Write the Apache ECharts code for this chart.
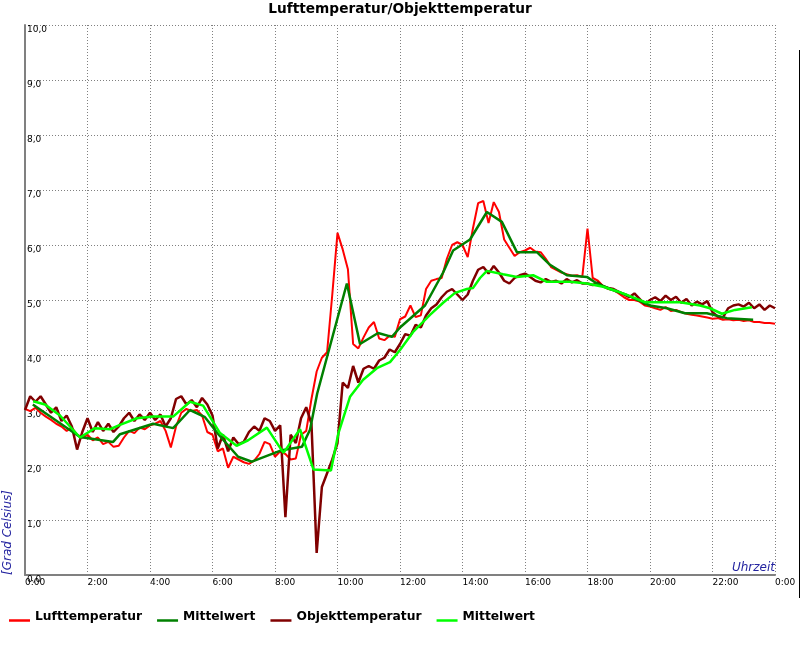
<!DOCTYPE html>
<html>
<head>
<meta charset="utf-8">
<script src="https://cdn.jsdelivr.net/npm/echarts@6/dist/echarts.min.js"></script>
<style>html,body{margin:0;padding:0;background:#fff}#c{width:800px;height:650px}</style>
</head>
<body>
<div id="c"></div>
<script>
// Lufttemperatur, every 10 minutes from 0:00 to 24:00
const luftTemp = [
  3.02, 2.98, 3.04, 2.95, 2.88, 2.82,
  2.75, 2.70, 2.62, 2.68, 2.55, 2.50,
  2.55, 2.45, 2.50, 2.38, 2.42, 2.33,
  2.35, 2.50, 2.62, 2.58, 2.68, 2.65,
  2.72, 2.75, 2.80, 2.62, 2.32, 2.70,
  2.95, 3.02, 2.98, 3.00, 2.90, 2.60,
  2.55, 2.25, 2.30, 1.95, 2.15, 2.10,
  2.05, 2.02, 2.08, 2.20, 2.42, 2.38,
  2.15, 2.25, 2.20, 2.10, 2.12, 2.55,
  2.62, 3.20, 3.70, 3.95, 4.05, 5.10,
  6.22, 5.92, 5.56, 4.20, 4.12, 4.32,
  4.50, 4.60, 4.30, 4.27, 4.35, 4.33,
  4.65, 4.70, 4.90, 4.69, 4.72, 5.20,
  5.35, 5.38, 5.40, 5.75, 6.00, 6.05,
  6.00, 5.78, 6.30, 6.76, 6.80, 6.40,
  6.78, 6.60, 6.10, 5.95, 5.80, 5.87,
  5.90, 5.95, 5.88, 5.87, 5.75, 5.60,
  5.55, 5.50, 5.47, 5.44, 5.45, 5.42,
  6.30, 5.40, 5.35, 5.25, 5.20, 5.18,
  5.12, 5.05, 5.00, 5.00, 4.97, 4.90,
  4.88, 4.85, 4.82, 4.87, 4.80, 4.82,
  4.78, 4.75, 4.73, 4.72, 4.70, 4.68,
  4.66, 4.67, 4.64, 4.65, 4.63, 4.64,
  4.62, 4.63, 4.60, 4.60, 4.58, 4.58,
  4.57
];
// Objekttemperatur, every 10 minutes from 0:00 to 24:00
const objektTemp = [
  3.00, 3.25, 3.15, 3.25, 3.10, 2.95,
  3.05, 2.80, 2.90, 2.70, 2.28, 2.60,
  2.85, 2.60, 2.78, 2.62, 2.75, 2.60,
  2.70, 2.85, 2.95, 2.80, 2.92, 2.82,
  2.95, 2.82, 2.92, 2.70, 2.85, 3.20,
  3.25, 3.10, 3.18, 3.05, 3.22, 3.10,
  2.90, 2.30, 2.55, 2.25, 2.50, 2.38,
  2.42, 2.60, 2.70, 2.62, 2.85, 2.80,
  2.62, 2.72, 1.05, 2.55, 2.40, 2.85,
  3.05, 2.75, 0.40, 1.60, 1.85, 2.10,
  2.40, 3.50, 3.40, 3.80, 3.50, 3.75,
  3.80, 3.75, 3.90, 3.95, 4.10, 4.05,
  4.20, 4.38, 4.35, 4.55, 4.50, 4.72,
  4.85, 4.92, 5.05, 5.15, 5.20, 5.10,
  5.00, 5.10, 5.35, 5.55, 5.60, 5.48,
  5.62, 5.50, 5.35, 5.30, 5.40, 5.45,
  5.48, 5.42, 5.35, 5.32, 5.38, 5.33,
  5.35, 5.30, 5.38, 5.32, 5.36, 5.30,
  5.30, 5.27, 5.32, 5.25, 5.22, 5.20,
  5.15, 5.10, 5.05, 5.12, 5.02, 4.92,
  5.00, 5.05, 4.98, 5.08, 5.00, 5.06,
  4.95, 5.02, 4.90, 4.97, 4.92, 4.98,
  4.78, 4.70, 4.68, 4.85, 4.90, 4.92,
  4.88, 4.95, 4.85, 4.92, 4.82, 4.90,
  4.85
];
const stepHours = 1 / 6;

// Mittelwert Lufttemperatur (hours, value)
const mittelLuftZeit = [0.25, 1.76, 2.82, 3.04, 4.1, 4.74, 5.28, 5.76, 6.2, 6.82,
  7.26, 8.22, 8.86, 9.12, 9.35, 10.3, 10.72, 11.3, 11.74, 12.0,
  12.8, 13.38, 13.7, 14.24, 14.78, 15.26, 15.74, 16.38, 16.8, 17.34,
  17.98, 18.3, 18.72, 19.26, 20.0, 20.54, 21.12, 21.82, 22.46, 23.3];
const mittelLuftWert = [3.1, 2.51, 2.42, 2.56, 2.75, 2.67, 3.0, 2.87, 2.55, 2.15,
  2.06, 2.27, 2.33, 2.64, 3.3, 5.3, 4.2, 4.4, 4.33, 4.5,
  4.9, 5.5, 5.9, 6.1, 6.6, 6.42, 5.87, 5.87, 5.64, 5.45,
  5.42, 5.3, 5.2, 5.09, 4.9, 4.85, 4.76, 4.76, 4.67, 4.64];

// Mittelwert Objekttemperatur (hours, value)
const mittelObjZeit = [0.26, 0.64, 1.12, 1.76, 2.24, 2.72, 3.04, 3.58, 4.1, 4.74,
  5.28, 5.7, 6.24, 6.77, 7.14, 7.74, 8.27, 8.8, 9.23, 9.79,
  10.03, 10.4, 10.82, 11.26, 11.68, 12.0, 12.42, 12.96, 13.38, 13.76,
  14.14, 14.34, 14.56, 14.78, 15.3, 15.74, 16.26, 16.7, 17.44, 17.98,
  18.5, 18.94, 19.36, 19.84, 20.96, 21.6, 21.92, 22.3, 22.72, 23.26];
const mittelObjWert = [3.16, 3.1, 2.9, 2.5, 2.67, 2.65, 2.73, 2.85, 2.88, 2.88,
  3.15, 3.08, 2.58, 2.35, 2.45, 2.68, 2.22, 2.65, 1.92, 1.9,
  2.58, 3.24, 3.55, 3.76, 3.87, 4.09, 4.42, 4.73, 4.95, 5.13,
  5.2, 5.22, 5.4, 5.53, 5.47, 5.42, 5.45, 5.33, 5.33, 5.3,
  5.24, 5.16, 5.07, 4.96, 4.96, 4.9, 4.85, 4.75, 4.82, 4.87];

const seriesNames = ['Lufttemperatur', 'Mittelwert', 'Objekttemperatur', 'Mittelwert '];
const titleText = 'Lufttemperatur/Objekttemperatur';

const FONT = 'DejaVu Sans';
const luftData = luftTemp.map((v, i) => [i * stepHours, v]);
const objData = objektTemp.map((v, i) => [i * stepHours, v]);
const mLuftData = mittelLuftZeit.map((t, i) => [t, mittelLuftWert[i]]);
const mObjData = mittelObjZeit.map((t, i) => [t, mittelObjWert[i]]);

const legendIcon = 'path://M0,0 L0,0 M0,7 L21,7 L21,9.5 L0,9.5 Z';

const chart = echarts.init(document.getElementById('c'), null, {renderer: 'canvas'});
chart.setOption({
  animation: false,
  backgroundColor: '#ffffff',
  title: {
    text: titleText, left: 'center', top: 2, padding: 0,
    textStyle: {fontFamily: FONT, fontSize: 13.7, fontWeight: 'bold', color: '#000'}
  },
  legend: {
    left: 9, top: 611, padding: 0, itemWidth: 21, itemHeight: 10, itemGap: 15,
    icon: legendIcon,
    data: seriesNames,
    textStyle: {fontFamily: FONT, fontSize: 12.3, fontWeight: 'bold', color: '#000'}
  },
  grid: {left: 25, right: 25, top: 25, bottom: 75, containLabel: false},
  xAxis: {
    type: 'value', min: 0, max: 24, interval: 2,
    axisLine: {show: true, onZero: false, lineStyle: {color: '#808080', width: 2}},
    axisTick: {show: false},
    splitLine: {show: true, lineStyle: {color: '#808080', type: [1, 2], width: 1}},
    axisLabel: {
      show: true, margin: 3, align: 'left', color: '#000', fontFamily: FONT, fontSize: 9,
      showMaxLabel: true, showMinLabel: true,
      formatter: v => (v % 24) + ':00'
    }
  },
  yAxis: {
    type: 'value', min: 0, max: 10, interval: 1,
    axisLine: {show: true, onZero: false, lineStyle: {color: '#808080', width: 2}},
    axisTick: {show: false},
    splitLine: {show: true, lineStyle: {color: '#808080', type: [1, 2], width: 1}},
    axisLabel: {
      show: true, inside: true, margin: 2, align: 'left', verticalAlign: 'top',
      color: '#000', fontFamily: FONT, fontSize: 9,
      showMaxLabel: true, showMinLabel: true,
      formatter: v => v.toFixed(1).replace('.', ',')
    }
  },
  graphic: [
    {type: 'text', x: 14, y: 575, rotation: Math.PI / 2, z: 100,
      style: {text: '[Grad Celsius]', font: 'italic 12px "DejaVu Sans"', fill: '#2424a0',
        textAlign: 'left', textVerticalAlign: 'bottom', align: 'left', verticalAlign: 'bottom'}},
    {type: 'text', x: 775, y: 574, z: 100,
      style: {text: 'Uhrzeit', font: 'italic 12px "DejaVu Sans"', fill: '#2424a0',
        textAlign: 'right', textVerticalAlign: 'bottom', align: 'right', verticalAlign: 'bottom'}},
    {type: 'line', z: 100, shape: {x1: 799.5, y1: 50, x2: 799.5, y2: 598}, style: {stroke: '#000', lineWidth: 1}}
  ],
  series: [
    {name: seriesNames[0], type: 'line', data: luftData, showSymbol: false, symbol: 'none', z: 2,
      lineStyle: {color: '#ff0000', width: 2}, itemStyle: {color: '#ff0000'}},
    {name: seriesNames[1], type: 'line', data: mLuftData, showSymbol: false, symbol: 'none', z: 4,
      lineStyle: {color: '#008000', width: 2.5}, itemStyle: {color: '#008000'}},
    {name: seriesNames[2], type: 'line', data: objData, showSymbol: false, symbol: 'none', z: 3,
      lineStyle: {color: '#800000', width: 2.5}, itemStyle: {color: '#800000'}},
    {name: seriesNames[3], type: 'line', data: mObjData, showSymbol: false, symbol: 'none', z: 5,
      lineStyle: {color: '#00ff00', width: 2.5}, itemStyle: {color: '#00ff00'}}
  ]
});
</script>
</body>
</html>
